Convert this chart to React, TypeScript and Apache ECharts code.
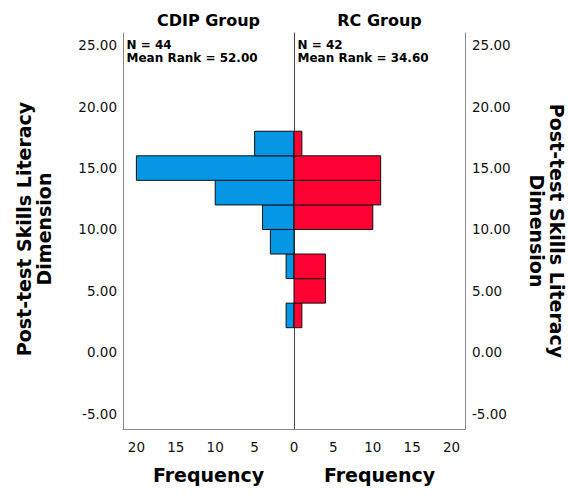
import React, { useEffect, useRef } from "react";
import * as echarts from "echarts";

const binLower = [2, 4, 6, 8, 10, 12, 14, 16];
const binUpper = [4, 6, 8, 10, 12, 14, 16, 18];
const cdipCounts = [1, 0, 1, 3, 4, 10, 20, 5];
const rcCounts = [1, 4, 4, 0, 10, 11, 11, 1];
const yTickValues = [-5, 0, 5, 10, 15, 20, 25];
const xTickValues = [0, 5, 10, 15, 20];
const groupNames = ["CDIP Group", "RC Group"];
const groupN = [44, 42];
const groupMeanRank = ["52.00", "34.60"];
const yTitle = "Post-test Skills Literacy\nDimension";
const xTitle = "Frequency";

const FONT = "DejaVu Sans";
const BLUE = "#0696e6";
const RED = "#ff0033";

function makeData(counts: number[]) {
  return counts.map((c, i) => [binLower[i], binUpper[i], c]);
}

function renderBar(color: string) {
  return (params: any, api: any) => {
    const lo = api.value(0);
    const hi = api.value(1);
    const c = api.value(2);
    if (!c) return null;
    const p1 = api.coord([0, hi]);
    const p2 = api.coord([c, lo]);
    return {
      type: "rect",
      shape: {
        x: Math.min(p1[0], p2[0]),
        y: p1[1],
        width: Math.abs(p2[0] - p1[0]),
        height: p2[1] - p1[1],
      },
      style: { fill: color, stroke: "#111", lineWidth: 1 },
    };
  };
}

export default function App() {
  const ref = useRef<HTMLDivElement>(null);
  useEffect(() => {
    if (!ref.current) return;
    const chart = echarts.init(ref.current, null, { renderer: "svg" });
    const xLabelFormatter = (v: number) =>
      xTickValues.indexOf(v) >= 0 ? String(v) : "";
    const xAxisBase = (grid: number, inverse: boolean) => ({
      gridIndex: grid,
      type: "value",
      min: 0,
      max: 21.7,
      interval: 5,
      inverse,
      axisLine: { show: true, onZero: false, lineStyle: { color: "#888", width: 1 } },
      axisTick: { show: false },
      splitLine: { show: false },
      axisLabel: {
        showMinLabel: grid === 1,
        showMaxLabel: false,
        margin: 11,
        fontSize: 13.5,
        color: "#111",
        fontFamily: FONT,
        formatter: xLabelFormatter,
      },
      name: xTitle,
      nameLocation: "middle",
      nameGap: 36,
      nameTextStyle: {
        fontFamily: FONT,
        fontWeight: "bold",
        fontSize: 19,
        color: "#000",
      },
    });
    const yAxisBase = (grid: number, position: string, labels: boolean, lineColor: string, margin: number) => ({
      gridIndex: grid,
      type: "value",
      min: -6.25,
      max: 26,
      position,
      axisLine: { show: true, onZero: false, lineStyle: { color: lineColor, width: 1 } },
      axisTick: { show: false },
      splitLine: { show: false },
      axisLabel: {
        show: labels,
        customValues: yTickValues,
        margin,
        fontSize: 13.5,
        color: "#111",
        fontFamily: FONT,
        formatter: (v: number) => v.toFixed(2),
      },
    });
    const statText = (i: number) => `N = ${groupN[i]}\nMean Rank = ${groupMeanRank[i]}`;
    chart.setOption({
      animation: false,
      grid: [
        { left: 123, top: 33, width: 171, height: 396 },
        { left: 294, top: 33, width: 171, height: 396 },
      ],
      xAxis: [xAxisBase(0, true), xAxisBase(1, false)],
      yAxis: [
        yAxisBase(0, "left", true, "#888", 6),
        yAxisBase(1, "right", true, "#888", 7),
        yAxisBase(1, "left", false, "#444", 6),
      ],
      series: [
        {
          type: "custom",
          name: groupNames[0],
          xAxisIndex: 0,
          yAxisIndex: 0,
          renderItem: renderBar(BLUE),
          encode: { x: 2, y: [0, 1] },
          data: makeData(cdipCounts),
        },
        {
          type: "custom",
          name: groupNames[1],
          xAxisIndex: 1,
          yAxisIndex: 1,
          renderItem: renderBar(RED),
          encode: { x: 2, y: [0, 1] },
          data: makeData(rcCounts),
        },
      ],
      graphic: [
        {
          type: "text",
          x: 208.5,
          y: 20,
          style: {
            text: groupNames[0],
            align: "center",
            verticalAlign: "middle",
            font: `bold 16px "${FONT}"`,
            fill: "#000",
          },
        },
        {
          type: "text",
          x: 379.5,
          y: 20,
          style: {
            text: groupNames[1],
            align: "center",
            verticalAlign: "middle",
            font: `bold 16px "${FONT}"`,
            fill: "#000",
          },
        },
        {
          type: "text",
          x: 126.5,
          y: 39,
          style: {
            text: statText(0),
            align: "left",
            verticalAlign: "top",
            font: `bold 12px "${FONT}"`,
            lineHeight: 12.6,
            fill: "#000",
          },
        },
        {
          type: "text",
          x: 297.5,
          y: 39,
          style: {
            text: statText(1),
            align: "left",
            verticalAlign: "top",
            font: `bold 12px "${FONT}"`,
            lineHeight: 12.6,
            fill: "#000",
          },
        },
        {
          type: "text",
          x: 33.5,
          y: 229,
          rotation: Math.PI / 2,
          style: {
            text: yTitle,
            align: "center",
            verticalAlign: "middle",
            font: `bold 19px "${FONT}"`,
            lineHeight: 20,
            fill: "#000",
          },
        },
        {
          type: "text",
          x: 547,
          y: 231,
          rotation: -Math.PI / 2,
          style: {
            text: yTitle,
            align: "center",
            verticalAlign: "middle",
            font: `bold 19px "${FONT}"`,
            lineHeight: 20,
            fill: "#000",
          },
        },
      ],
    });
    return () => chart.dispose();
  }, []);
  return (
    <div
      ref={ref}
      style={{ position: "fixed", left: 0, top: 0, width: 568, height: 498, background: "#fff" }}
    />
  );
}
